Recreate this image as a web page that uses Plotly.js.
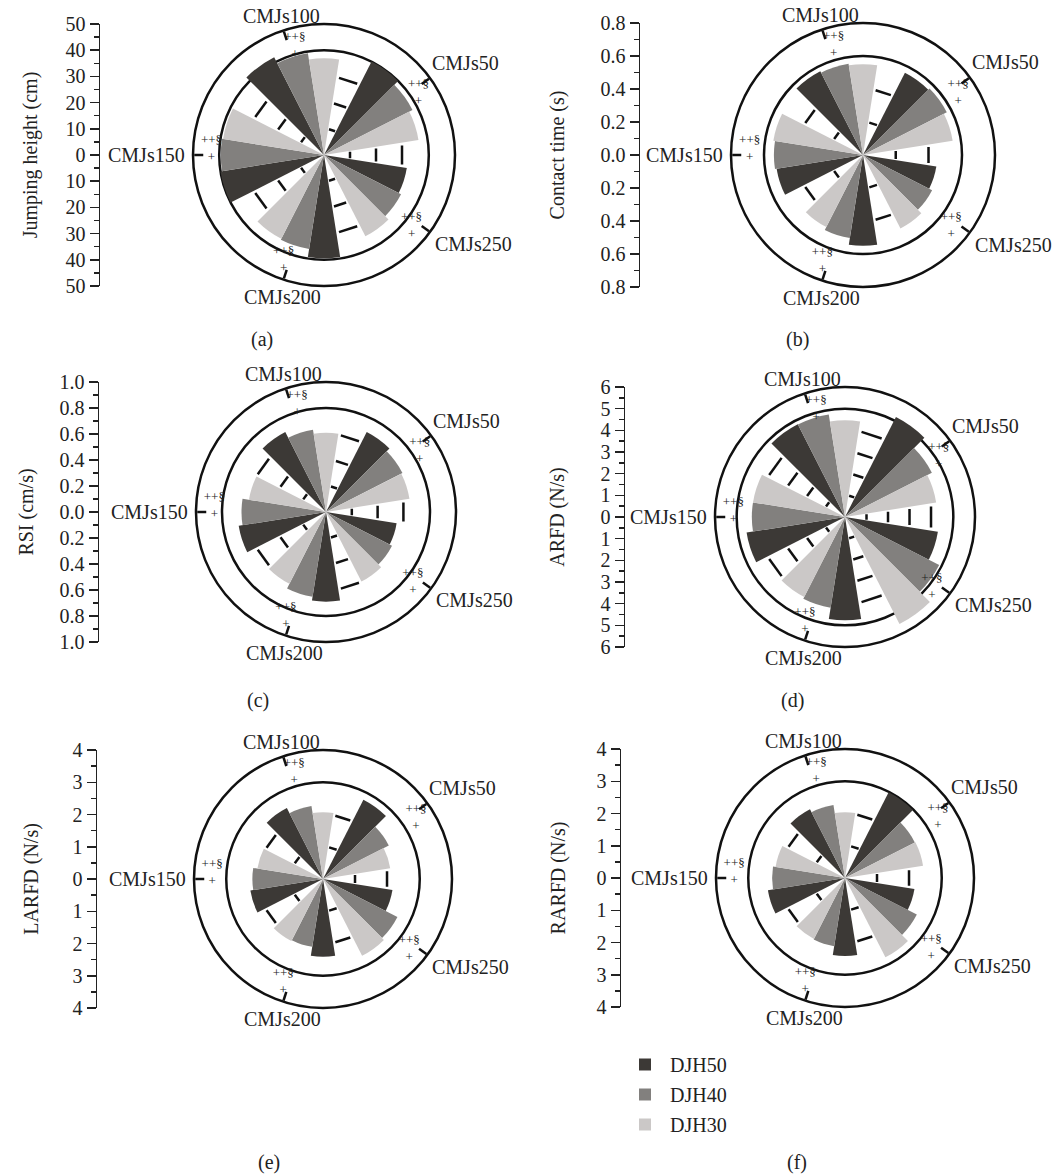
<!DOCTYPE html>
<html>
<head>
<meta charset="utf-8">
<script src="https://cdn.plot.ly/plotly-3.0.1.min.js"></script>
<style>
  html, body { margin: 0; padding: 0; background: #fff; }
  #chart { width: 1057px; height: 1175px; }
</style>
</head>
<body>
<div id="chart"></div>
<script>
// ---------- data ----------
const categories = ['CMJs50', 'CMJs100', 'CMJs150', 'CMJs200', 'CMJs250'];
const seriesNames = ['DJH50', 'DJH40', 'DJH30'];
const sigLabel = '++§<br>+';

// (a) Jumping height (cm)
const jumpHeight50 = [40.0, 41.9, 40.0, 39.4, 32.0];
const jumpHeight40 = [37.9, 39.3, 39.4, 36.3, 33.0];
const jumpHeight30 = [36.5, 36.9, 39.0, 35.9, 34.8];
// (b) Contact time (s)
const contactTime50 = [0.56, 0.57, 0.53, 0.55, 0.45];
const contactTime40 = [0.57, 0.56, 0.54, 0.51, 0.47];
const contactTime30 = [0.55, 0.55, 0.55, 0.49, 0.50];
// (c) RSI (cm/s)
const rsi50 = [0.69, 0.69, 0.68, 0.69, 0.55];
const rsi40 = [0.66, 0.64, 0.65, 0.66, 0.57];
const rsi30 = [0.65, 0.61, 0.60, 0.62, 0.60];
// (d) ARFD (N/s)
const arfd50 = [5.18, 4.80, 4.60, 4.77, 4.34];
const arfd40 = [4.50, 4.79, 4.30, 4.24, 4.88];
const arfd30 = [4.26, 4.46, 4.30, 4.14, 5.54];
// (e) LARFD (N/s)
const larfd50 = [2.76, 2.47, 2.28, 2.41, 2.18];
const larfd40 = [2.29, 2.29, 2.19, 2.13, 2.59];
const larfd30 = [2.11, 2.07, 2.06, 2.16, 2.67];
// (f) RARFD (N/s)
const rarfd50 = [2.98, 2.39, 2.42, 2.42, 2.18];
const rarfd40 = [2.43, 2.29, 2.26, 2.14, 2.50];
const rarfd30 = [2.45, 2.04, 2.18, 2.12, 2.76];

// ---------- layout / style ----------
const W = 1057, H = 1175;
const FONT = 'Liberation Serif, Times New Roman, serif';
const FS = 20;
const INK = '#222222';
const seriesColors = ['#3c3936', '#82807e', '#cbc8c7'];
const seriesOffset = [18, 0, -18];   // DJH50, DJH40, DJH30 relative to category centre
const SLOT = 18;

const panels = [
  {tag: '(a)', title: 'Jumping height (cm)', s: [jumpHeight50, jumpHeight40, jumpHeight30], max: 50, dtick: 10, dec: 0,
   cx: 324, cy: 155, r: 131, ax: 100, lab: [262, 340], standoff: 22},
  {tag: '(b)', title: 'Contact time (s)', s: [contactTime50, contactTime40, contactTime30], max: 0.8, dtick: 0.2, dec: 1,
   cx: 863, cy: 155, r: 132, ax: 640, lab: [797, 340], standoff: 30},
  {tag: '(c)', title: 'RSI (cm/s)', s: [rsi50, rsi40, rsi30], max: 1.0, dtick: 0.2, dec: 1,
   cx: 326, cy: 512, r: 130, ax: 99, lab: [258, 700], standoff: 20},
  {tag: '(d)', title: 'ARFD (N/s)', s: [arfd50, arfd40, arfd30], max: 6, dtick: 1, dec: 0,
   cx: 845, cy: 517, r: 130, ax: 625, lab: [792, 700], standoff: 30},
  {tag: '(e)', title: 'LARFD (N/s)', s: [larfd50, larfd40, larfd30], max: 4, dtick: 1, dec: 0,
   cx: 323, cy: 879, r: 129, ax: 97, lab: [269, 1162], standoff: 28},
  {tag: '(f)', title: 'RARFD (N/s)', s: [rarfd50, rarfd40, rarfd30], max: 4, dtick: 1, dec: 0,
   cx: 845, cy: 878, r: 129, ax: 621, lab: [797, 1162], standoff: 25}
];

const catCentres = categories.map((c, i) => 36 + 72 * i);
const gapAngles = categories.map((c, i) => 72 * i);
// placement of the category labels around the outer ring (pixel nudges, anchors)
const labelPlace = [
  {xa: 'left',   dx: 0,  dy: -15},
  {xa: 'center', dx: -2, dy: -14},
  {xa: 'right',  dx: -6, dy: 0},
  {xa: 'center', dx: -1, dy: 17},
  {xa: 'left',   dx: 3,  dy: 12}
];

const traces = [];
const layout = {
  width: W, height: H,
  margin: {l: 0, r: 0, t: 0, b: 0},
  paper_bgcolor: '#fff',
  font: {family: FONT, size: FS, color: INK},
  showlegend: true,
  legend: {x: 620 / W, y: 1 - 1045 / H, xanchor: 'left', yanchor: 'top',
           font: {family: FONT, size: FS, color: INK}, tracegroupgap: 1,
           bgcolor: 'rgba(0,0,0,0)', itemwidth: 40},
  annotations: []
};

panels.forEach((p, k) => {
  const n = k + 1;
  const pid = n === 1 ? 'polar' : 'polar' + n;
  const xid = n === 1 ? 'x' : 'x' + n;
  const yid = n === 1 ? 'y' : 'y' + n;
  const inner = +(p.max - p.dtick).toFixed(6);

  // bars
  p.s.forEach((vals, si) => {
    traces.push({
      type: 'barpolar', subplot: pid,
      name: seriesNames[si], legendgroup: seriesNames[si],
      showlegend: k === 0,
      r: vals,
      theta: catCentres.map(t => t + seriesOffset[si]),
      width: categories.map(() => SLOT),
      marker: {color: seriesColors[si], line: {width: 0}},
      hovertemplate: '%{r}<extra>' + seriesNames[si] + '</extra>'
    });
  });

  // small radial ticks in the gaps between groups
  const gr = [], gt = [];
  for (let v = p.dtick; v < inner - 1e-9; v += p.dtick) {
    gapAngles.forEach(g => {
      gr.push(v, v, null);
      gt.push(g - 7, g + 7, null);
    });
  }
  traces.push({
    type: 'scatterpolar', subplot: pid, mode: 'lines', r: gr, theta: gt,
    line: {color: '#111', width: 2.5}, showlegend: false, hoverinfo: 'skip', connectgaps: false
  });

  // significance marks
  traces.push({
    type: 'scatterpolar', subplot: pid, mode: 'text',
    r: categories.map(() => p.max * 0.86), theta: catCentres.map(t => t - 3),
    text: categories.map(() => sigLabel),
    textfont: {family: FONT, size: 13, color: categories.map(() => INK)},
    marker: {color: INK},
    textposition: 'middle center', showlegend: false, hoverinfo: 'skip', cliponaxis: false
  });

  // empty trace for the vertical scale axis
  traces.push({type: 'scatter', x: [], y: [], xaxis: xid, yaxis: yid, showlegend: false, hoverinfo: 'skip'});

  layout[pid] = {
    domain: {x: [(p.cx - p.r) / W, (p.cx + p.r) / W], y: [1 - (p.cy + p.r) / H, 1 - (p.cy - p.r) / H]},
    bgcolor: '#fff',
    barmode: 'overlay',
    radialaxis: {range: [0, p.max], tickvals: [inner], showticklabels: false, ticks: '',
                 showline: false, showgrid: true, gridcolor: '#111', gridwidth: 2.5},
    angularaxis: {type: 'linear', rotation: 0, direction: 'counterclockwise', thetaunit: 'degrees',
                  tickmode: 'array', tickvals: catCentres, ticktext: categories, showticklabels: false,
                  ticks: 'inside', ticklen: 9, tickwidth: 2.5, tickcolor: '#111',
                  showline: true, linecolor: '#111', linewidth: 2.5, showgrid: false}
  };

  // category labels around the ring
  categories.forEach((c, i) => {
    const a = catCentres[i] * Math.PI / 180;
    const px = p.cx + p.r * Math.cos(a) + labelPlace[i].dx;
    const py = p.cy - p.r * Math.sin(a) + labelPlace[i].dy;
    layout.annotations.push({
      text: c, xref: 'paper', yref: 'paper', x: px / W, y: 1 - py / H,
      xanchor: labelPlace[i].xa, yanchor: 'middle', showarrow: false,
      font: {family: FONT, size: FS, color: INK}
    });
  });

  const tv = [], tt = [];
  const nT = Math.round(p.max / p.dtick);
  for (let i = -nT; i <= nT; i++) {
    const v = +(i * p.dtick).toFixed(6);
    tv.push(v);
    tt.push(Math.abs(v).toFixed(p.dec));
  }
  const xa = n === 1 ? 'xaxis' : 'xaxis' + n;
  const ya = n === 1 ? 'yaxis' : 'yaxis' + n;
  layout[xa] = {domain: [p.ax / W, (p.ax + 2) / W], visible: false, anchor: yid, fixedrange: true};
  layout[ya] = {
    domain: [1 - (p.cy + p.r) / H, 1 - (p.cy - p.r) / H],
    anchor: xid, side: 'left', range: [-p.max, p.max], fixedrange: true,
    tickmode: 'array', tickvals: tv, ticktext: tt,
    ticks: 'outside', ticklen: 9, tickwidth: 1.5, tickcolor: INK,
    showline: true, linecolor: INK, linewidth: 1.5,
    showgrid: false, zeroline: false,
    minor: {tickmode: 'linear', tick0: 0, dtick: p.dtick / 2, ticks: 'outside', ticklen: 5,
            tickwidth: 1.5, tickcolor: INK, showgrid: false},
    tickfont: {family: FONT, size: FS, color: INK},
    title: {text: p.title, font: {family: FONT, size: FS, color: INK}, standoff: p.standoff}
  };

  layout.annotations.push({
    text: p.tag, xref: 'paper', yref: 'paper', x: p.lab[0] / W, y: 1 - p.lab[1] / H,
    showarrow: false, font: {family: FONT, size: FS, color: INK}, xanchor: 'center', yanchor: 'middle'
  });
});

Plotly.newPlot('chart', traces, layout, {staticPlot: true, displayModeBar: false});
</script>
</body>
</html>
